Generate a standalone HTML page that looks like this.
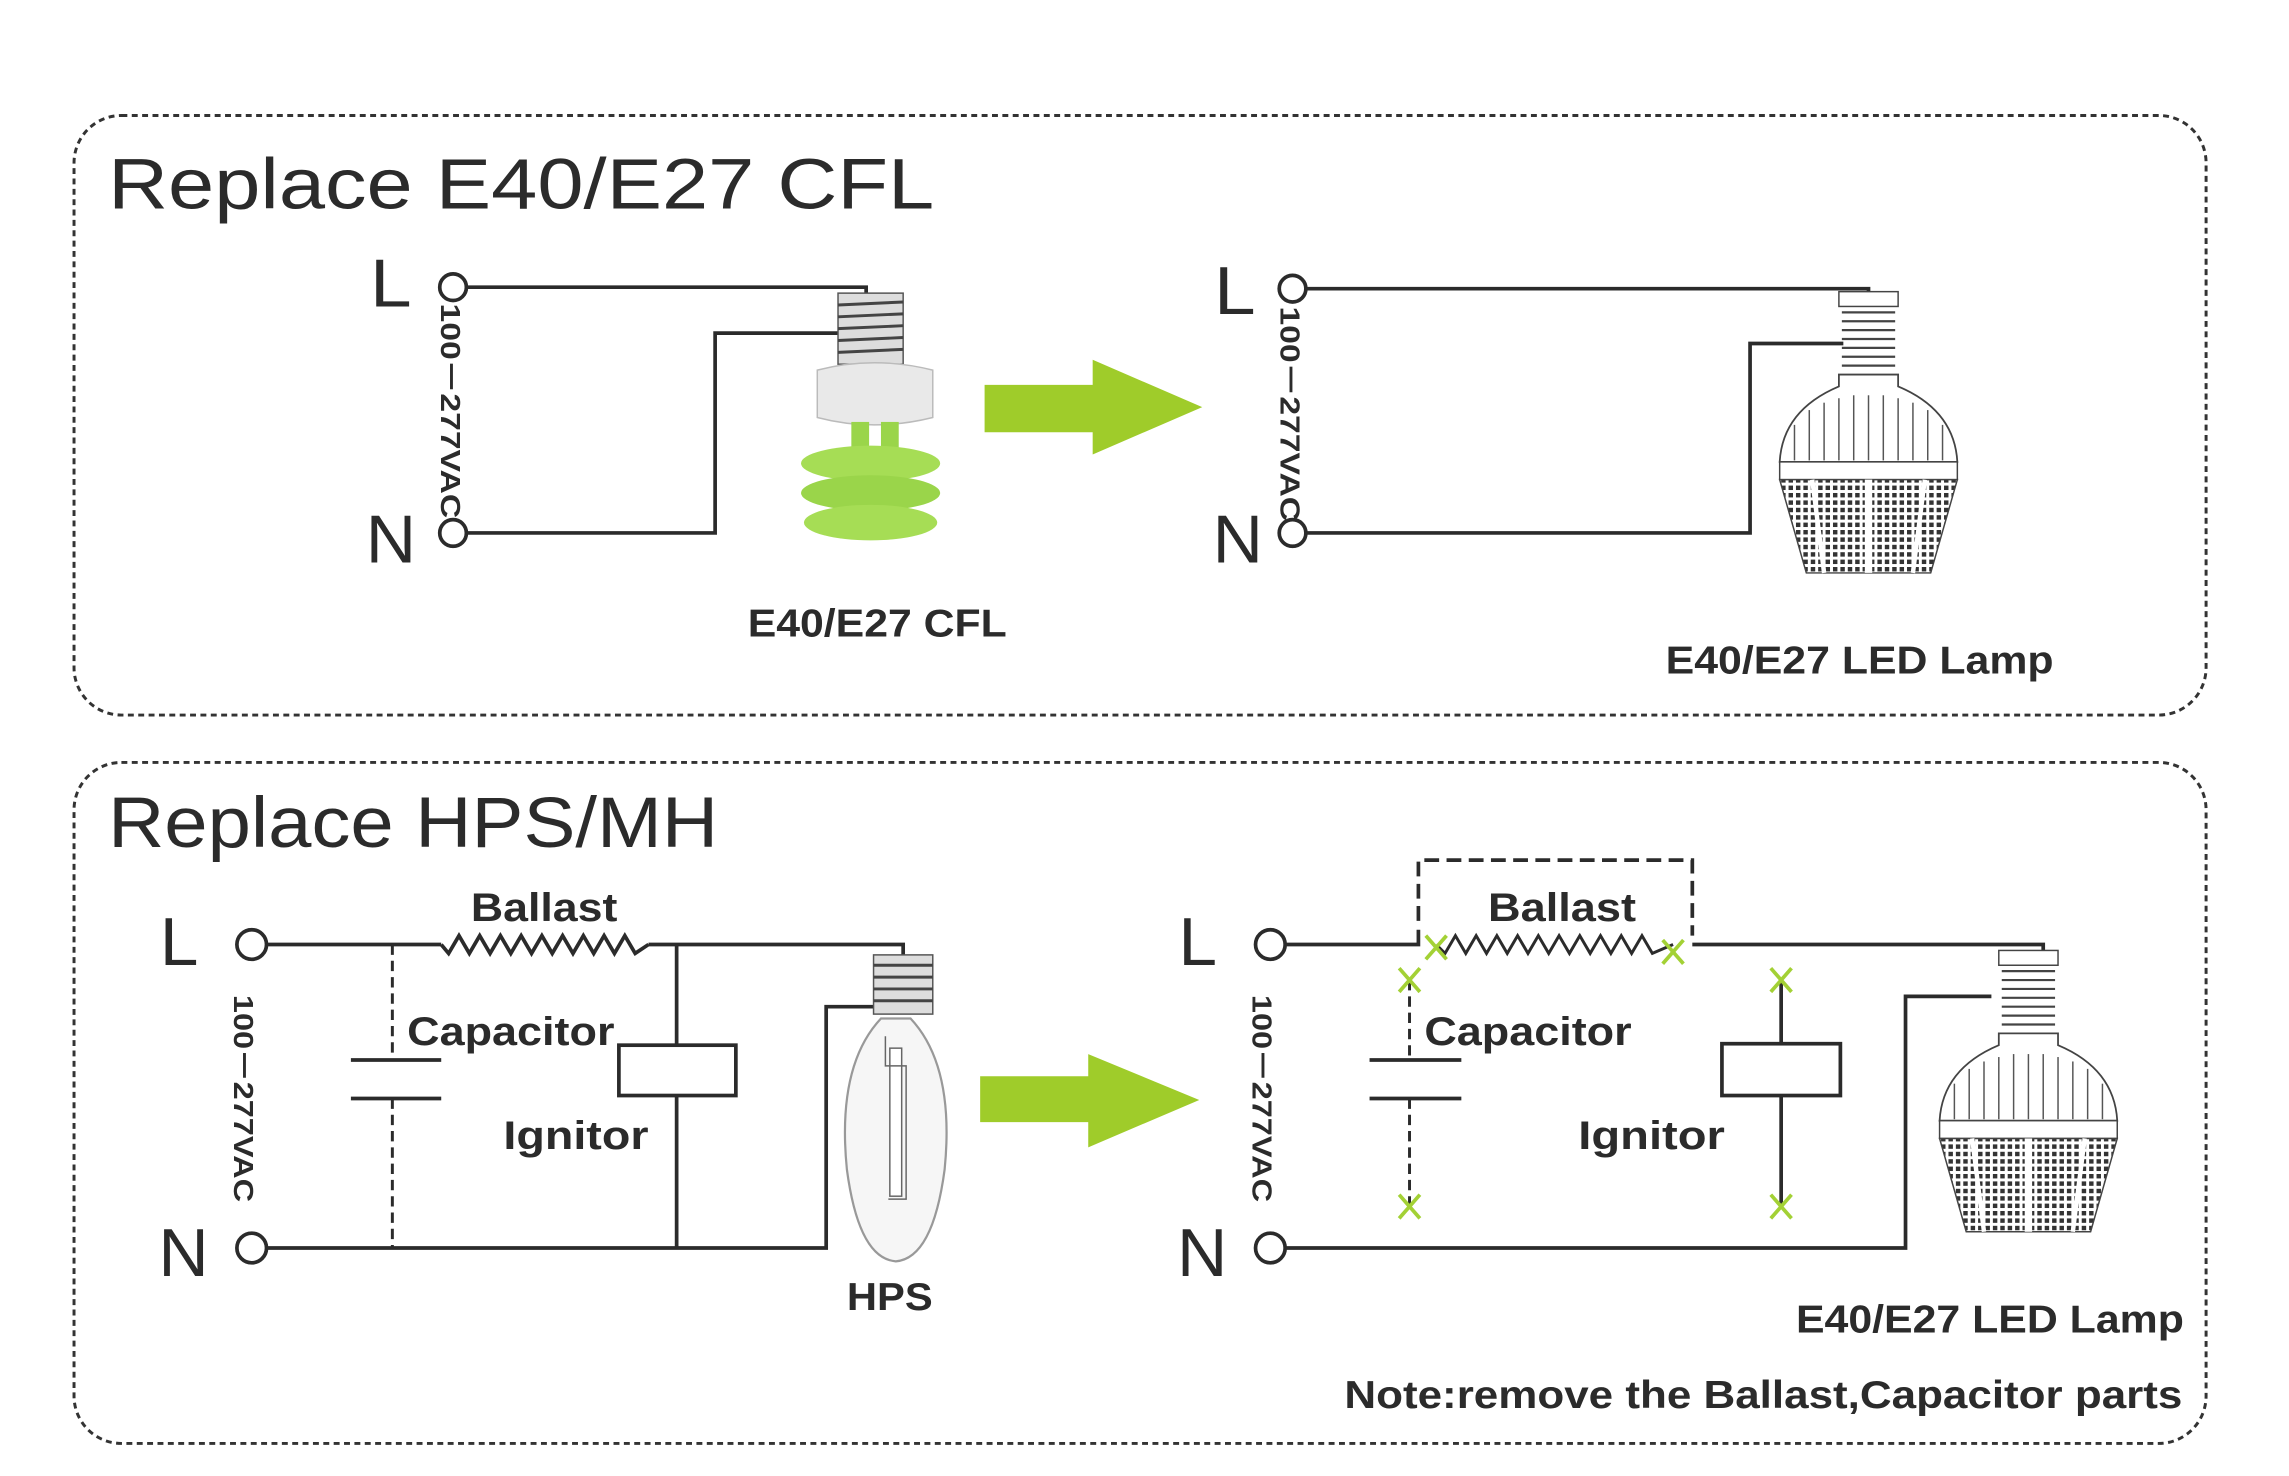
<!DOCTYPE html>
<html><head><meta charset="utf-8"><style>
html,body{margin:0;padding:0;background:#fff;}
svg{display:block;}
text{font-family:"Liberation Sans Narrow","Liberation Sans",sans-serif;fill:#2b2b2b;}
</style></head><body>
<svg width="2289" height="1476" viewBox="0 0 1546 997" preserveAspectRatio="none" xmlns="http://www.w3.org/2000/svg">
<defs>
<pattern id="dots" width="5" height="5" patternUnits="userSpaceOnUse"><rect width="5" height="5" fill="#fff"/><rect x="1" y="1" width="3" height="3" fill="#333"/></pattern>
<g id="led">
 <rect x="-20" y="0" width="40" height="10" fill="#fff" stroke="#444"/>
 <g stroke="#444" stroke-width="1.5"><line x1="-18" y1="14" x2="18" y2="14"/><line x1="-18" y1="20" x2="18" y2="20"/><line x1="-18" y1="26" x2="18" y2="26"/><line x1="-18" y1="32" x2="18" y2="32"/><line x1="-18" y1="38" x2="18" y2="38"/><line x1="-18" y1="44" x2="18" y2="44"/><line x1="-18" y1="50" x2="18" y2="50"/></g>
 <path d="M-20 56 L-20 64 Q-58 80 -60 115 L60 115 Q58 80 20 64 L20 56 Z" fill="#fff" stroke="#444" stroke-width="1.2"/>
 <g stroke="#555" stroke-width="1"><line x1="-50" y1="90" x2="-50" y2="114"/><line x1="-40" y1="80" x2="-40" y2="114"/><line x1="-30" y1="75" x2="-30" y2="114"/><line x1="-20" y1="72" x2="-20" y2="114"/><line x1="-10" y1="70" x2="-10" y2="114"/><line x1="0" y1="70" x2="0" y2="114"/><line x1="10" y1="70" x2="10" y2="114"/><line x1="20" y1="72" x2="20" y2="114"/><line x1="30" y1="75" x2="30" y2="114"/><line x1="40" y1="80" x2="40" y2="114"/><line x1="50" y1="90" x2="50" y2="114"/></g>
 <rect x="-60" y="115" width="120" height="12" fill="#fff" stroke="#444"/>
 <path d="M-60 127 L60 127 L42 190 L-42 190 Z" fill="url(#dots)" stroke="#444"/>
 <line x1="0" y1="127" x2="0" y2="190" stroke="#fff" stroke-width="5"/>
 <line x1="-38" y1="127" x2="-30" y2="190" stroke="#fff" stroke-width="3"/>
 <line x1="38" y1="127" x2="30" y2="190" stroke="#fff" stroke-width="3"/>
</g>
</defs>
<rect width="1546" height="997" fill="#fff"/>

<!-- Top box -->
<rect x="50" y="78" width="1440" height="405" rx="32" fill="none" stroke="#333" stroke-width="2" stroke-dasharray="4,3"/>
<text x="73" y="141" font-size="48" style="font-family:'Liberation Sans',sans-serif" textLength="558" lengthAdjust="spacingAndGlyphs">Replace  E40/E27  CFL</text>

<g fill="none" stroke="#2b2b2b" stroke-width="2.5">
 <circle cx="306" cy="194" r="9"/><circle cx="306" cy="360" r="9"/>
 <polyline points="315,194 585,194 585,205"/>
 <polyline points="315,360 483,360 483,225 570,225"/>
 <circle cx="873" cy="195" r="9"/><circle cx="873" cy="360" r="9"/>
 <polyline points="882,195 1262,195 1262,205"/>
 <polyline points="882,360 1182,360 1182,232 1245,232"/>
</g>
<text x="250" y="207" font-size="46" textLength="28" lengthAdjust="spacingAndGlyphs">L</text>
<text x="247" y="380" font-size="46" textLength="34" lengthAdjust="spacingAndGlyphs">N</text>
<text x="820" y="212" font-size="46" textLength="28" lengthAdjust="spacingAndGlyphs">L</text>
<text x="819" y="380" font-size="46" textLength="34" lengthAdjust="spacingAndGlyphs">N</text>
<text transform="translate(298,205) rotate(90)" font-size="19" font-weight="bold" style="font-family:'Liberation Sans',sans-serif" textLength="145" lengthAdjust="spacingAndGlyphs">100－277VAC</text>
<text transform="translate(865,207) rotate(90)" font-size="19" font-weight="bold" style="font-family:'Liberation Sans',sans-serif" textLength="145" lengthAdjust="spacingAndGlyphs">100－277VAC</text>

<!-- CFL bulb -->
<g>
 <rect x="566" y="198" width="44" height="48" fill="#ddd" stroke="#555"/>
 <g stroke="#444" stroke-width="2"><line x1="566" y1="206" x2="610" y2="204"/><line x1="566" y1="214" x2="610" y2="212"/><line x1="566" y1="222" x2="610" y2="220"/><line x1="566" y1="230" x2="610" y2="228"/><line x1="566" y1="238" x2="610" y2="236"/></g>
 <path d="M552 250 Q590 240 630 250 L630 282 Q590 292 552 282 Z" fill="#e9e9e9" stroke="#bbb"/>
 <rect x="575" y="285" width="12" height="20" fill="#9ad54a"/><rect x="595" y="285" width="12" height="20" fill="#9ad54a"/>
 <ellipse cx="588" cy="313" rx="47" ry="12" fill="#a6dd55"/>
 <ellipse cx="588" cy="333" rx="47" ry="12" fill="#9ad54a"/>
 <ellipse cx="588" cy="353" rx="45" ry="12" fill="#a6dd55"/>
</g>
<text x="505" y="430" font-size="26" font-weight="bold" textLength="175" lengthAdjust="spacingAndGlyphs">E40/E27 CFL</text>

<!-- arrow 1 -->
<polygon points="665,260 738,260 738,243 812,275 738,307 738,292 665,292" fill="#9fcc2a"/>

<use href="#led" x="1262" y="197"/>
<text x="1125" y="455" font-size="26" font-weight="bold" textLength="262" lengthAdjust="spacingAndGlyphs">E40/E27 LED Lamp</text>

<!-- Bottom box -->
<rect x="50" y="515" width="1440" height="460" rx="32" fill="none" stroke="#333" stroke-width="2" stroke-dasharray="4,3"/>
<text x="73" y="572" font-size="48" style="font-family:'Liberation Sans',sans-serif" textLength="412" lengthAdjust="spacingAndGlyphs">Replace HPS/MH</text>

<g fill="none" stroke="#2b2b2b" stroke-width="2.5">
 <circle cx="170" cy="638" r="10"/><circle cx="170" cy="843" r="10"/>
 <line x1="180" y1="638" x2="298" y2="638"/>
 <polyline points="298,638 303,644 310,632 317,644 324,632 331,644 338,632 345,644 352,632 359,644 366,632 373,644 380,632 387,644 394,632 401,644 408,632 415,644 422,632 429,644 438,638"/>
 <polyline points="438,638 610,638 610,645"/>
 <polyline points="180,843 558,843 558,680 600,680"/>
 <line x1="457" y1="638" x2="457" y2="706"/><line x1="457" y1="740" x2="457" y2="843"/>
 <rect x="418" y="706" width="79" height="34"/>
 <line x1="237" y1="716" x2="298" y2="716"/><line x1="237" y1="742" x2="298" y2="742"/>
 <line x1="265" y1="638" x2="265" y2="716" stroke-dasharray="7,4" stroke-width="2"/>
 <line x1="265" y1="742" x2="265" y2="843" stroke-dasharray="7,4" stroke-width="2"/>
</g>
<text x="108" y="652" font-size="46" textLength="26" lengthAdjust="spacingAndGlyphs">L</text>
<text x="107" y="862" font-size="46" textLength="34" lengthAdjust="spacingAndGlyphs">N</text>
<text transform="translate(158,672) rotate(90)" font-size="19" font-weight="bold" style="font-family:'Liberation Sans',sans-serif" textLength="140" lengthAdjust="spacingAndGlyphs">100－277VAC</text>
<text x="318" y="622" font-size="27" font-weight="bold" textLength="99" lengthAdjust="spacingAndGlyphs">Ballast</text>
<text x="275" y="706" font-size="27" font-weight="bold" textLength="140" lengthAdjust="spacingAndGlyphs">Capacitor</text>
<text x="340" y="776" font-size="27" font-weight="bold" textLength="98" lengthAdjust="spacingAndGlyphs">Ignitor</text>

<!-- HPS bulb -->
<g>
 <rect x="590" y="645" width="40" height="40" fill="#ddd" stroke="#555"/>
 <g stroke="#444" stroke-width="2"><line x1="590" y1="652" x2="630" y2="652"/><line x1="590" y1="660" x2="630" y2="660"/><line x1="590" y1="668" x2="630" y2="668"/><line x1="590" y1="676" x2="630" y2="676"/></g>
 <path d="M595 688 Q565 720 572 790 Q580 850 605 852 Q630 850 638 790 Q645 720 615 688 Z" fill="#f6f6f6" stroke="#999" stroke-width="1.5"/>
 <rect x="601" y="708" width="8" height="100" fill="#fff" stroke="#666"/>
 <polyline points="598,700 598,720 612,720 612,810 600,810" fill="none" stroke="#666"/>
</g>
<text x="572" y="885" font-size="26" font-weight="bold" textLength="58" lengthAdjust="spacingAndGlyphs">HPS</text>

<!-- arrow 2 -->
<polygon points="662,727 735,727 735,712 810,743 735,775 735,758 662,758" fill="#9fcc2a"/>

<g fill="none" stroke="#2b2b2b" stroke-width="2.5">
 <circle cx="858" cy="638" r="10"/><circle cx="858" cy="843" r="10"/>
 <polyline points="868,638 958,638 958,628"/>
 <polyline points="958,622 958,581 1143,581 1143,632" stroke-dasharray="10,5"/>
 <polyline points="970,638 976,644 983,632 990,644 997,632 1004,644 1011,632 1018,644 1025,632 1032,644 1039,632 1046,644 1053,632 1060,644 1067,632 1074,644 1081,632 1088,644 1095,632 1102,644 1109,632 1116,644 1130,638" stroke-width="2"/>
 <polyline points="1143,638 1380,638 1380,645"/>
 <polyline points="868,843 1287,843 1287,673 1345,673"/>
 <line x1="1203" y1="662" x2="1203" y2="705"/><line x1="1203" y1="740" x2="1203" y2="815"/>
 <rect x="1163" y="705" width="80" height="35"/>
 <line x1="925" y1="716" x2="987" y2="716"/><line x1="925" y1="742" x2="987" y2="742"/>
 <line x1="952" y1="662" x2="952" y2="716" stroke-dasharray="7,4" stroke-width="2"/>
 <line x1="952" y1="742" x2="952" y2="815" stroke-dasharray="7,4" stroke-width="2"/>
</g>
<g stroke="#a3d135" stroke-width="2.5">
 <path d="M963 632 L977 648 M977 632 L963 648"/>
 <path d="M1123 635 L1137 651 M1137 635 L1123 651"/>
 <path d="M945 654 L959 670 M959 654 L945 670"/>
 <path d="M945 807 L959 823 M959 807 L945 823"/>
 <path d="M1196 654 L1210 670 M1210 654 L1196 670"/>
 <path d="M1196 807 L1210 823 M1210 807 L1196 823"/>
</g>
<text x="796" y="652" font-size="46" textLength="26" lengthAdjust="spacingAndGlyphs">L</text>
<text x="795" y="862" font-size="46" textLength="34" lengthAdjust="spacingAndGlyphs">N</text>
<text transform="translate(846,672) rotate(90)" font-size="19" font-weight="bold" style="font-family:'Liberation Sans',sans-serif" textLength="140" lengthAdjust="spacingAndGlyphs">100－277VAC</text>
<text x="1005" y="622" font-size="27" font-weight="bold" textLength="100" lengthAdjust="spacingAndGlyphs">Ballast</text>
<text x="962" y="706" font-size="27" font-weight="bold" textLength="140" lengthAdjust="spacingAndGlyphs">Capacitor</text>
<text x="1066" y="776" font-size="27" font-weight="bold" textLength="99" lengthAdjust="spacingAndGlyphs">Ignitor</text>

<use href="#led" x="1370" y="642"/>
<text x="1213" y="900" font-size="26" font-weight="bold" textLength="262" lengthAdjust="spacingAndGlyphs">E40/E27 LED Lamp</text>
<text x="908" y="951" font-size="26" font-weight="bold" textLength="566" lengthAdjust="spacingAndGlyphs">Note:remove the Ballast,Capacitor parts</text>
</svg>
</body></html>
